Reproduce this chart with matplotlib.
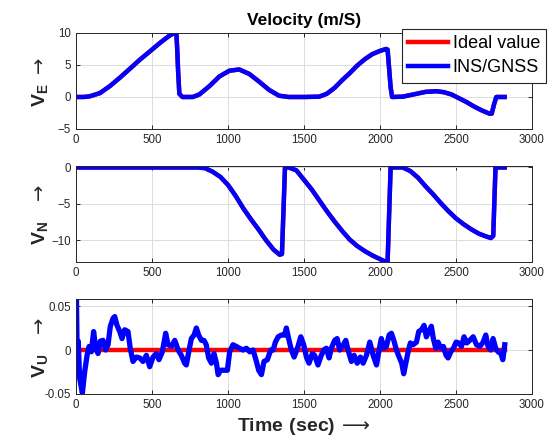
import matplotlib
matplotlib.use('Agg')
from matplotlib import pyplot as plt

# Tiempo y velocidades (m/s)
t_e = [0, 50, 90, 157, 223, 288, 354, 419, 485, 550, 616, 648, 660, 665, 672, 680, 700, 769,
       812, 878, 943, 1009, 1074, 1140, 1205, 1271, 1336, 1400, 1500, 1600, 1650, 1700, 1750,
       1800, 1850, 1900, 1950, 2000, 2040, 2050, 2060, 2070, 2080, 2150, 2200, 2250, 2300,
       2370, 2420, 2470, 2520, 2570, 2620, 2670, 2720, 2735, 2750, 2765, 2820]
v_e = [0, 0, 0.1, 0.6, 1.7, 3.0, 4.4, 5.8, 7.1, 8.4, 9.6, 10.0, 10.0, 8.0, 4.0, 0.5, 0, 0,
       0.4, 1.7, 3.2, 4.1, 4.3, 3.6, 2.4, 1.1, 0.2, 0, 0, 0.05, 0.5, 1.4, 2.6,
       3.7, 4.9, 5.9, 6.7, 7.2, 7.5, 7.4, 4.5, 1.5, 0, 0.05, 0.3, 0.55, 0.8,
       0.9, 0.75, 0.4, -0.2, -0.8, -1.5, -2.1, -2.6, -2.6, -1.2, 0, 0]

t_n = [0, 200, 400, 600, 800, 850, 900, 950, 1000, 1050, 1100, 1150, 1200, 1250, 1300, 1340,
       1355, 1365, 1375, 1400, 1450, 1500, 1550, 1600, 1650, 1700, 1750, 1800, 1850, 1900,
       1950, 2000, 2040, 2050, 2060, 2070, 2100, 2150, 2200, 2250, 2300, 2350, 2400, 2450,
       2500, 2550, 2600, 2650, 2700, 2730, 2745, 2760, 2820]
v_n = [0, 0, 0, 0, 0, -0.1, -0.6, -1.3, -2.4, -3.9, -5.6, -7.1, -8.5, -10.0, -11.3, -12.0,
       -11.9, -6.0, 0, 0, -0.4, -1.7, -3.0, -4.5, -6.0, -7.4, -8.7, -9.9, -10.8, -11.5,
       -12.1, -12.6, -13.0, -13.0, -6.5, 0, 0, 0, -0.5, -1.4, -2.6, -3.7, -4.9, -6.0,
       -7.0, -7.8, -8.5, -9.1, -9.5, -9.7, -9.4, 0, 0]

t_u = [0, 3, 8, 15, 24, 42, 57, 73, 86, 101, 116, 130, 145, 160, 178, 195, 211, 226, 244,
       255, 270, 288, 303, 320, 342, 357, 375, 397, 419, 441, 463, 485, 507, 529, 546, 568,
       590, 606, 628, 650, 672, 693, 715, 726, 742, 759, 777, 792, 807, 825, 842, 857, 873,
       891, 908, 924, 935, 952, 974, 996, 1011, 1033, 1055, 1077, 1099, 1121, 1143, 1165,
       1187, 1202, 1220, 1237, 1259, 1281, 1297, 1312, 1330, 1351, 1373, 1384, 1399, 1417,
       1435, 1457, 1479, 1498, 1516, 1533, 1555, 1570, 1592, 1614, 1630, 1647, 1665, 1680,
       1702, 1718, 1735, 1753, 1775, 1790, 1812, 1830, 1850, 1871, 1889, 1911, 1933, 1955,
       1977, 1994, 2009, 2025, 2042, 2060, 2075, 2091, 2108, 2126, 2143, 2156, 2170, 2185,
       2200, 2218, 2240, 2255, 2273, 2290, 2305, 2321, 2338, 2351, 2367, 2382, 2400, 2417,
       2435, 2448, 2466, 2483, 2501, 2518, 2536, 2553, 2571, 2591, 2613, 2635, 2657, 2679,
       2696, 2711, 2729, 2744, 2761, 2777, 2795, 2808, 2821]
v_u = [0.0, 0.059, -0.01, 0.01, -0.032, -0.049, -0.025, -0.006, 0.004, -0.002, 0.021, 0.002,
       -0.004, 0.01, 0.011, 0.0, 0.006, 0.027, 0.036, 0.038, 0.028, 0.021, 0.013, 0.023,
       0.021, 0.002, -0.013, -0.008, -0.009, -0.013, -0.006, -0.019, -0.008, -0.004, -0.011,
       -0.002, 0.019, 0.006, 0.004, 0.011, 0.0, -0.006, -0.015, -0.017, -0.002, 0.013, 0.017,
       0.025, 0.017, 0.011, 0.011, 0.006, -0.009, -0.015, -0.004, -0.015, -0.028, -0.023,
       -0.023, -0.023, -0.002, 0.006, 0.004, 0.002, 0.0, 0.002, -0.002, 0.0, -0.013, -0.023,
       -0.028, -0.013, -0.011, 0.0, 0.0, 0.009, 0.015, 0.017, 0.017, 0.025, 0.013, 0.0,
       -0.008, 0.002, 0.015, 0.006, -0.008, -0.015, -0.004, -0.006, -0.017, -0.006, 0.0,
       0.002, -0.009, 0.002, 0.011, 0.013, 0.0, 0.004, 0.011, 0.0, -0.013, -0.006, -0.015,
       -0.008, -0.015, -0.006, 0.009, -0.006, -0.017, 0.0, 0.013, 0.002, 0.004, 0.017, 0.019,
       0.011, 0.0, -0.008, -0.015, -0.027, -0.015, -0.002, 0.008, 0.006, 0.009, 0.021, 0.023,
       0.028, 0.015, 0.021, 0.027, 0.013, 0.002, 0.009, 0.002, 0.004, -0.006, -0.009, -0.002,
       0.002, 0.009, 0.008, 0.004, 0.015, 0.008, 0.011, 0.015, 0.006, 0.004, 0.009, 0.017,
       0.004, 0.0, 0.013, 0.002, -0.002, -0.004, -0.011, 0.006]

t_u_ideal = [0, 2820]
v_u_ideal = [0, 0]

xticks = [0, 500, 1000, 1500, 2000, 2500, 3000]

plt.rcParams['font.family'] = ['Liberation Sans', 'DejaVu Sans']
plt.rcParams['mathtext.fontset'] = 'custom'
plt.rcParams['mathtext.rm'] = 'Liberation Sans'
plt.rcParams['mathtext.bf'] = 'Liberation Sans:bold'
plt.rcParams['mathtext.sf'] = 'DejaVu Sans'

fig = plt.figure(figsize=(5.53, 4.41), dpi=100)
left, width = 0.1374, 0.8246
ax1 = fig.add_axes([left, 0.7075, width, 0.2177])
ax2 = fig.add_axes([left, 0.4059, width, 0.2177])
ax3 = fig.add_axes([left, 0.1066, width, 0.2154])

# Velocidad Este
ax1.plot(t_e, v_e, color='red', lw=3.2, label='Ideal value')
ax1.plot(t_e, v_e, color='blue', lw=3.2, label='INS/GNSS')
ax1.set_ylim(-5, 10)
ax1.set_yticks([-5, 0, 5, 10])
ax1.set_title('Velocity (m/S)', fontsize=12.5, fontweight='bold', pad=6)

# Velocidad Norte
ax2.plot(t_n, v_n, color='red', lw=3.2)
ax2.plot(t_n, v_n, color='blue', lw=3.2)
ax2.set_ylim(-13, 0.2)
ax2.set_yticks([-10, -5, 0])

# Velocidad vertical
ax3.plot(t_u_ideal, v_u_ideal, color='red', lw=3.2)
ax3.plot(t_u, v_u, color='blue', lw=3.8)
ax3.set_ylim(-0.05, 0.058)
ax3.set_yticks([-0.05, 0, 0.05])
ax3.set_yticklabels(['-0.05', '0', '0.05'])
ax3.set_xlabel(r'$\mathbf{Time\ (sec)}\,\mathsf{\longrightarrow}$', fontsize=14,
               labelpad=4, color='#262626')

labels = [r'$\mathbf{V_E}\ \mathsf{\rightarrow}$',
          r'$\mathbf{V_N}\ \ \,\mathsf{\rightarrow}$',
          r'$\mathbf{V_U}\ \ \,\mathsf{\rightarrow}$']
for ax, lab in zip([ax1, ax2, ax3], labels):
    ax.set_xlim(0, 3000)
    ax.set_xticks(xticks)
    ax.grid(True, color='#dcdcdc', lw=0.7)
    ax.set_axisbelow(True)
    ax.tick_params(direction='in', top=True, right=True, labelsize=8.3,
                   colors='#262626', length=3, width=0.7)
    for s in ax.spines.values():
        s.set_color('#262626')
        s.set_linewidth(0.7)
    ax.set_ylabel(lab, fontsize=14, color='#262626')
    ax.yaxis.set_label_coords(-0.058, 0.49)

leg = ax1.legend(loc='upper right', bbox_to_anchor=(0.988, 0.935),
                 bbox_transform=fig.transFigure, fontsize=13, frameon=True,
                 fancybox=False, framealpha=1, edgecolor='#262626',
                 handlelength=2.2, borderpad=0.35, labelspacing=0.4,
                 handletextpad=0.25, borderaxespad=0)
leg.get_frame().set_linewidth(0.8)

fig.savefig('out.png', dpi=100)
